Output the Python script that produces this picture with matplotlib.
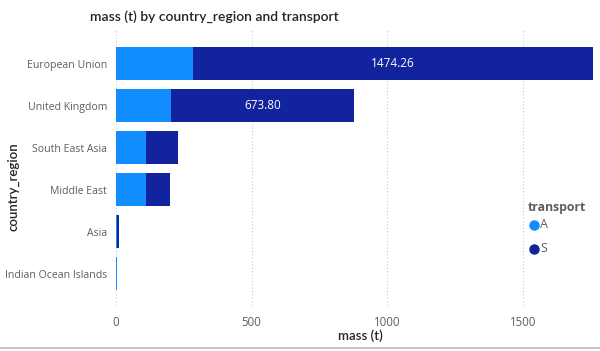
import matplotlib
matplotlib.use("Agg")
import matplotlib.pyplot as plt
from matplotlib.lines import Line2D
import numpy as np

categories = ["European Union", "United Kingdom", "South East Asia", "Middle East", "Asia", "Indian Ocean Islands"]
series_names = ["A", "S"]
values_A = [284, 203, 110, 112, 2, 2]
values_S = [1474.26, 673.80, 119, 86, 10, 0]
xticks = [0, 500, 1000, 1500]
colors = ["#118DFF", "#12239E"]

plt.rcParams['font.family'] = ['Open Sans', 'DejaVu Sans']

W, H = 600, 351
fig = plt.figure(figsize=(6, 3.51), dpi=100)
ax = fig.add_axes([116 / W, 1 - 305 / H, (593 - 116) / W, (305 - 30) / H])

y = np.arange(len(categories))
A = np.array(values_A, dtype=float)
S = np.array(values_S, dtype=float)
ax.barh(y, A, height=0.78, color=colors[0], label=series_names[0])
ax.barh(y, S, left=A, height=0.78, color=colors[1], label=series_names[1])

for i in range(len(categories)):
    if S[i] > 500:
        ax.text(A[i] + S[i] / 2, y[i], f"{S[i]:.2f}", color="white", ha="center", va="center", fontsize=8.5)

ax.set_xlim(0, (A + S).max())
ax.set_ylim(len(categories) - 1 + 0.745, -0.80)
ax.set_xticks(xticks)
ax.set_xticklabels([str(t) for t in xticks], color="#605E5C", fontsize=8.3)
ax.set_yticks(y)
ax.set_yticklabels(categories, color="#605E5C", fontsize=7.6)
ax.tick_params(axis="both", length=0)
ax.tick_params(axis="y", pad=6.5)
ax.tick_params(axis="x", pad=8)
for s in ax.spines.values():
    s.set_visible(False)
ax.grid(axis="x", color="#C8C8C8", linestyle=(0, (1, 2)), linewidth=0.8)
ax.set_axisbelow(True)

fig.text(90 / W, 1 - 17 / H, "mass (t) by country_region and transport", fontsize=10.0,
         family=["Lato", "DejaVu Sans"], fontweight="semibold", color="#252423", ha="left", va="center")
fig.text(360 / W, 1 - 336 / H, "mass (t)", fontsize=9.5, family=["Lato", "DejaVu Sans"], fontweight="semibold",
         color="#252423", ha="center", va="center")
fig.text(13 / W, 1 - 187 / H, "country_region", fontsize=9.5, family=["Lato", "DejaVu Sans"], fontweight="semibold",
         color="#252423", ha="center", va="center", rotation=90)

# legend
fig.text(528 / W, 1 - 207 / H, "transport", fontsize=8.8, fontweight="bold", color="#605E5C", ha="left", va="center")
for k, (name, c) in enumerate(zip(series_names, colors)):
    yy = 225 + 24 * k
    fig.add_artist(Line2D([534 / W], [1 - yy / H], marker="o", markersize=6.5, color=c, linestyle="none"))
    fig.text(540 / W, 1 - yy / H, name, fontsize=9, color="#605E5C", ha="left", va="center")

fig.add_artist(Line2D([0, 1], [1 - 348 / H, 1 - 348 / H], color="#C8C6C4", linewidth=1.5))

fig.savefig("out.png", dpi=100)
